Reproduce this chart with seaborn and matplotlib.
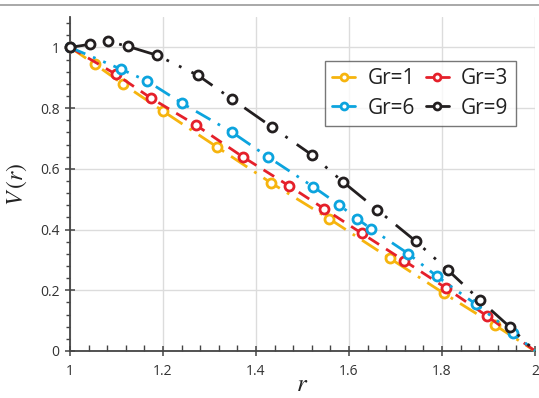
import numpy as np
import pandas as pd
import seaborn as sns
import matplotlib
matplotlib.use("Agg")
import matplotlib.pyplot as plt
from matplotlib.lines import Line2D
from matplotlib.legend_handler import HandlerLine2D
from matplotlib.ticker import FixedLocator, MultipleLocator

# ---- data ----
r_gr1 = [1.000, 1.054, 1.114, 1.200, 1.316, 1.432, 1.557, 1.688, 1.804, 1.914, 2.000]
v_gr1 = [1.000, 0.944, 0.879, 0.790, 0.672, 0.554, 0.436, 0.305, 0.190, 0.085, 0.000]

r_gr3 = [1.000, 1.099, 1.174, 1.271, 1.372, 1.471, 1.546, 1.628, 1.718, 1.809, 1.897, 2.000]
v_gr3 = [1.000, 0.911, 0.833, 0.744, 0.639, 0.544, 0.469, 0.387, 0.298, 0.207, 0.115, 0.000]

r_gr6 = [1.000, 1.110, 1.166, 1.241, 1.348, 1.426, 1.523, 1.578, 1.617, 1.647, 1.727, 1.789, 1.873, 1.953, 2.000]
v_gr6 = [1.000, 0.928, 0.889, 0.816, 0.721, 0.639, 0.541, 0.482, 0.436, 0.403, 0.321, 0.246, 0.154, 0.059, 0.000]

r_gr9 = [1.000, 1.043, 1.082, 1.125, 1.187, 1.275, 1.348, 1.434, 1.520, 1.587, 1.660, 1.744, 1.813, 1.882, 1.946, 2.000]
v_gr9 = [1.000, 1.010, 1.020, 1.003, 0.974, 0.908, 0.830, 0.738, 0.646, 0.557, 0.466, 0.361, 0.266, 0.167, 0.079, 0.000]

labels = ["Gr=1", "Gr=3", "Gr=6", "Gr=9"]
x_ticks = [1, 1.2, 1.4, 1.6, 1.8, 2]
x_tick_labels = ["1", "1.2", "1.4", "1.6", "1.8", "2"]
y_ticks = [0, 0.2, 0.4, 0.6, 0.8, 1]
y_tick_labels = ["0", "0.2", "0.4", "0.6", "0.8", "1"]

# ---- styles ----
colors = ["#F6B40E", "#E5202A", "#0CA4DE", "#231F20"]
dashes = [(0, (7, 3, 1, 3)), (0, (4.5, 3)), (0, (6, 3, 1, 3, 1, 3)), (0, (9, 4, 1, 4, 1, 4))]

sns.set_theme(style="white")
plt.rcParams["font.family"] = ["Open Sans", "DejaVu Sans"]
plt.rcParams["mathtext.fontset"] = "stix"

fig = plt.figure(figsize=(5.39, 3.98), dpi=100)
ax = fig.add_axes([70 / 539, 1 - 351 / 398, 465 / 539, (351 - 17) / 398])

series = [(r_gr1, v_gr1), (r_gr3, v_gr3), (r_gr6, v_gr6), (r_gr9, v_gr9)]
for (rr, vv), lab, col, ls in zip(series, labels, colors, dashes):
    df = pd.DataFrame({"r": rr, "V": vv})
    sns.lineplot(data=df, x="r", y="V", ax=ax, color=col, linewidth=2.0,
                 linestyle=ls, marker="o", markersize=6.5,
                 markerfacecolor="white", markeredgecolor=col,
                 markeredgewidth=2.0, markevery=slice(0, len(rr) - 1),
                 clip_on=False, legend=False, zorder=3)

ax.set_xlim(1, 2)
ax.set_ylim(0, 1.1)
ax.xaxis.set_major_locator(FixedLocator(x_ticks))
ax.set_xticklabels(x_tick_labels)
ax.yaxis.set_major_locator(FixedLocator(y_ticks))
ax.set_yticklabels(y_tick_labels)
ax.xaxis.set_minor_locator(MultipleLocator(0.04))
ax.yaxis.set_minor_locator(MultipleLocator(0.04))

ax.grid(True, which="major", color="#DCDCDC", linewidth=1.0)
ax.set_axisbelow(True)
for s in ["top", "right"]:
    ax.spines[s].set_visible(False)
for s in ["left", "bottom"]:
    ax.spines[s].set_color("#444444")
    ax.spines[s].set_linewidth(1.3)

ax.tick_params(axis="x", which="major", direction="inout", length=7, width=1.1,
               color="#444444", labelsize=10, labelcolor="#333333", pad=6, bottom=True)
ax.tick_params(axis="x", which="minor", direction="in", length=4, width=1.0,
               color="#444444", bottom=True)
ax.tick_params(axis="y", which="major", direction="inout", length=7, width=1.1,
               color="#444444", labelsize=10, labelcolor="#333333", pad=4, left=True)
ax.tick_params(axis="y", which="minor", direction="out", length=3, width=1.0,
               color="#444444", left=True)

ax.set_xlabel("$r$", fontsize=18, labelpad=-5, color="#222222")
ax.set_ylabel("$V\\,(r)$", fontsize=17, labelpad=8, color="#222222")

# legend with marker near the right end of the handle
class RightMarkerHandler(HandlerLine2D):
    def get_xdata(self, legend, xdescent, ydescent, width, height, fontsize):
        xdata = np.array([-xdescent, -xdescent + width])
        xmark = np.array([-xdescent + 0.78 * width])
        return xdata, xmark

handles = []
for col in colors:
    handles.append(Line2D([], [], color=col, linewidth=2.0, marker="o", markersize=5,
                          markerfacecolor="white", markeredgecolor=col, markeredgewidth=2.0))
order = [0, 2, 1, 3]
leg = ax.legend([handles[i] for i in order], [labels[i] for i in order], ncol=2,
                loc="upper left", bbox_to_anchor=((325 - 70) / 465, (351 - 61) / 334),
                fontsize=15, frameon=True, fancybox=False, handlelength=1.1,
                handletextpad=0.6, columnspacing=0.5, labelspacing=0.4,
                borderpad=0.35, borderaxespad=0,
                handler_map={Line2D: RightMarkerHandler()})
leg.get_frame().set_edgecolor("#555555")
leg.get_frame().set_linewidth(1.0)
for t in leg.get_texts():
    t.set_color("#222222")

# thin border line at the top of the picture
fig.add_artist(Line2D([0, 1], [1 - 5 / 398, 1 - 5 / 398], transform=fig.transFigure,
                      color="#999999", linewidth=1.2))

fig.savefig("out.png", dpi=100)
